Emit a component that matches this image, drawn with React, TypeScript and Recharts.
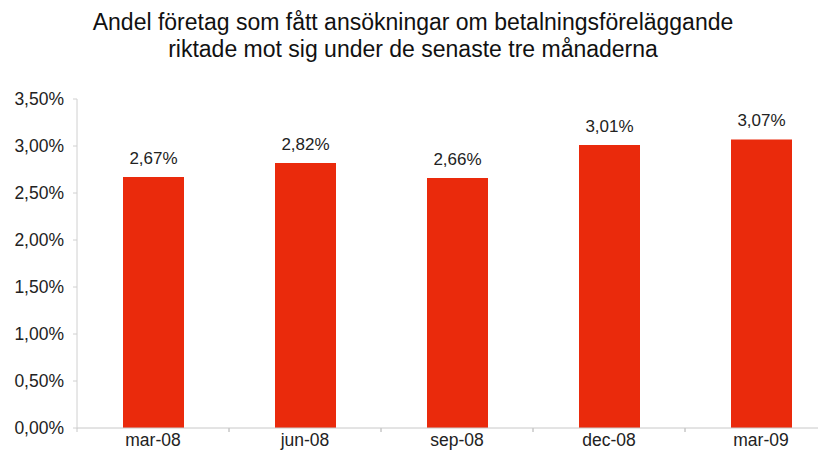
import { BarChart, Bar, XAxis, YAxis, LabelList } from "recharts";

const categories = ["mar-08", "jun-08", "sep-08", "dec-08", "mar-09"];
const shares = [2.67, 2.82, 2.66, 3.01, 3.07];
const yTicks = [0, 0.5, 1, 1.5, 2, 2.5, 3, 3.5];
const titleLines = [
  "Andel företag som fått ansökningar om betalningsföreläggande",
  "riktade mot sig under de senaste tre månaderna",
];

const data = categories.map((c, i) => ({ period: c, share: shares[i] }));

const fmt = (v: number) => v.toFixed(2).replace(".", ",") + "%";

const FONT = "'Liberation Sans', Arial, sans-serif";

const XTick: React.FC<any> = ({ x, y, payload }) => {
  const half = payload?.offset ?? 76;
  return (
    <g>
      <line x1={x - half} y1={y} x2={x - half} y2={y + 4} stroke="#c8c8c8" />
      <line x1={x + half} y1={y} x2={x + half} y2={y + 4} stroke="#c8c8c8" />
      <text x={x} y={y} dy={18} textAnchor="middle" fill="#222" fontSize={17.5} fontFamily={FONT}>
        {payload.value}
      </text>
    </g>
  );
};

export default function App() {
  return (
    <div
      style={{
        position: "relative",
        margin: -8,
        width: 826,
        height: 466,
        overflow: "hidden",
        background: "#fff",
      }}
    >
      <div
        style={{
          position: "absolute",
          top: 9,
          left: 0,
          width: 826,
          textAlign: "center",
          fontFamily: FONT,
          fontSize: 23,
          lineHeight: "27px",
          color: "#111",
        }}
      >
        {titleLines.map((l) => (
          <div key={l}>{l}</div>
        ))}
      </div>
      {/* plot runs a bit past the right edge in the original */}
      <BarChart
        width={837}
        height={466}
        data={data}
        margin={{ top: 99, right: 0, bottom: 8, left: 0 }}
        barCategoryGap={0}
      >
        <XAxis
          dataKey="period"
          height={30}
          axisLine={{ stroke: "#c8c8c8" }}
          tickLine={false}
          tickSize={0}
          tickMargin={0}
          tick={<XTick />}
          interval={0}
        />
        <YAxis
          width={77}
          domain={[0, 3.5]}
          ticks={yTicks}
          tickFormatter={fmt}
          axisLine={{ stroke: "#d0d0d0" }}
          tickLine={{ stroke: "#d0d0d0" }}
          tickSize={4}
          tickMargin={9}
          tick={{ fill: "#222", fontSize: 17.5, fontFamily: FONT }}
          interval={0}
        />
        <Bar dataKey="share" fill="#ea2a0c" barSize={61} isAnimationActive={false}>
          <LabelList
            dataKey="share"
            position="top"
            offset={13}
            formatter={(v: any) => fmt(Number(v))}
            style={{ fill: "#222", fontSize: 17, fontFamily: FONT }}
          />
        </Bar>
      </BarChart>
    </div>
  );
}
